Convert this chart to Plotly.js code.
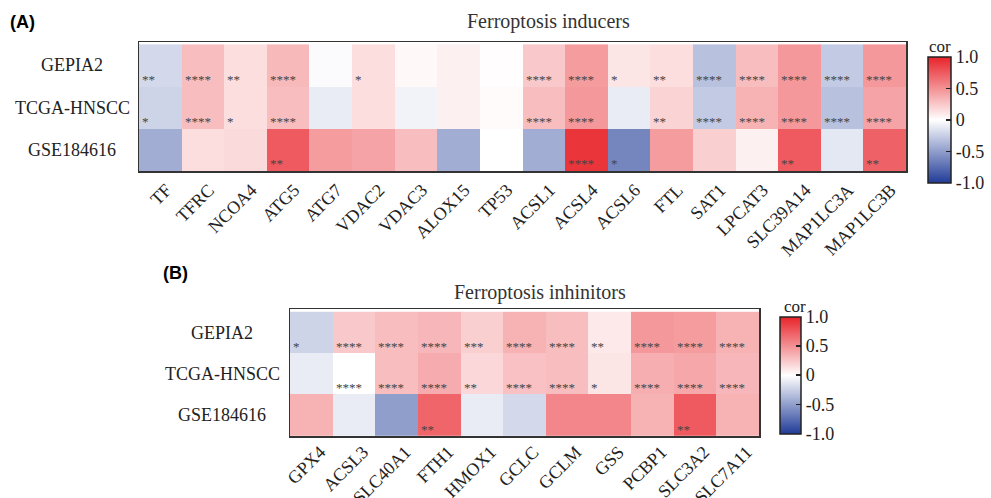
<!DOCTYPE html>
<html>
<head>
<meta charset="utf-8">
<script src="https://cdn.plot.ly/plotly-3.0.1.min.js"></script>
<style>html,body{margin:0;padding:0;background:#fff;}#chart{width:991px;height:498px;}</style>
</head>
<body>
<div id="chart"></div>
<script>
// ---------- data ----------
const rows = ['GEPIA2', 'TCGA-HNSCC', 'GSE184616'];

const genesA = ['TF','TFRC','NCOA4','ATG5','ATG7','VDAC2','VDAC3','ALOX15','TP53','ACSL1','ACSL4','ACSL6','FTL','SAT1','LPCAT3','SLC39A14','MAP1LC3A','MAP1LC3B'];
const corA_GEPIA2 = [-0.20, 0.30, 0.15, 0.32, -0.02, 0.15, 0.03, 0.07, 0.01, 0.25, 0.45, 0.12, 0.15, -0.32, 0.30, 0.47, -0.27, 0.47];
const corA_TCGA   = [-0.22, 0.30, 0.15, 0.30, -0.10, 0.15, -0.06, 0.07, 0.02, 0.30, 0.47, -0.10, 0.20, -0.27, 0.35, 0.47, -0.32, 0.42];
const corA_GSE    = [-0.42, 0.15, 0.17, 0.75, 0.45, 0.42, 0.30, -0.42, 0.00, -0.42, 0.92, -0.62, 0.45, 0.22, 0.07, 0.75, -0.12, 0.72];
const sigA_GEPIA2 = ['**','****','**','****','','*','','','','****','****','*','**','****','****','****','****','****'];
const sigA_TCGA   = ['*','****','*','****','','','','','','****','****','','**','****','****','****','****','****'];
const sigA_GSE    = ['','','','**','','','','','','','****','*','','','','**','','**'];

const genesB = ['GPX4','ACSL3','SLC40A1','FTH1','HMOX1','GCLC','GCLM','GSS','PCBP1','SLC3A2','SLC7A11'];
const corB_GEPIA2 = [-0.22, 0.25, 0.30, 0.33, 0.22, 0.35, 0.30, 0.10, 0.47, 0.45, 0.35];
const corB_TCGA   = [-0.10, 0.00, 0.30, 0.38, 0.18, 0.28, 0.30, 0.12, 0.37, 0.40, 0.33];
const corB_GSE    = [0.35, -0.10, -0.50, 0.70, -0.10, -0.20, 0.55, 0.55, 0.35, 0.75, 0.35];
const sigB_GEPIA2 = ['*','****','****','****','***','****','****','**','****','****','****'];
const sigB_TCGA   = ['','****','****','****','**','****','****','*','****','****','****'];
const sigB_GSE    = ['','','','**','','','','','','**',''];

const cbTicks = [-1, -0.5, 0, 0.5, 1];
const cbTickText = ['-1.0', '-0.5', '0', '0.5', '1.0'];

// ---------- styling ----------
const W = 991, H = 498;
const serif = 'Liberation Serif, Times New Roman, serif';
const cscale = [[0, '#213c98'], [0.5, '#ffffff'], [1, '#e8232a']];
const px = v => v / W, py = v => 1 - v / H;

function heat(x, z, xa, ya, cb) {
  return {
    type: 'heatmap', x: x, y: rows, z: z, xaxis: xa, yaxis: ya,
    zmin: -1, zmax: 1, colorscale: cscale, hoverinfo: 'skip',
    colorbar: Object.assign({
      tickvals: cbTicks, ticktext: cbTickText, ticks: 'inside', ticklen: 5, tickwidth: 1.5, tickcolor: '#222',
      outlinewidth: 1.5, outlinecolor: '#222', lenmode: 'pixels', thicknessmode: 'pixels',
      xpad: 0, ypad: 0,
      xanchor: 'left', yanchor: 'middle', tickfont: {family: serif, size: 18, color: '#222'}
    }, cb)
  };
}

const traces = [
  heat(genesA, [corA_GEPIA2, corA_TCGA, corA_GSE], 'x', 'y',
       {x: px(928), y: py(120), len: 126, thickness: 23}),
  heat(genesB, [corB_GEPIA2, corB_TCGA, corB_GSE], 'x2', 'y2',
       {x: px(780), y: py(375), len: 117, thickness: 21})
];

const annotations = [];
function stars(sigRows, xref, yref) {
  sigRows.forEach((arr, i) => {
    arr.forEach((s, j) => {
      if (!s) return;
      annotations.push({x: j - 0.5, y: i, xref: xref, yref: yref, text: s, showarrow: false,
        xanchor: 'left', yanchor: 'middle', xshift: 1, yshift: -14,
        font: {family: serif, size: 13, color: '#444'}});
    });
  });
}
stars([sigA_GEPIA2, sigA_TCGA, sigA_GSE], 'x', 'y');
stars([sigB_GEPIA2, sigB_TCGA, sigB_GSE], 'x2', 'y2');

rows.forEach((r, i) => {
  annotations.push({x: px(72), xref: 'paper', y: i, yref: 'y', text: r, showarrow: false,
    xanchor: 'center', font: {family: serif, size: 18, color: '#222'}});
  annotations.push({x: px(222), xref: 'paper', y: i, yref: 'y2', text: r, showarrow: false,
    xanchor: 'center', font: {family: serif, size: 18, color: '#222'}});
});

function txt(x, y, t, font, anchor) {
  annotations.push({x: px(x), y: py(y), xref: 'paper', yref: 'paper', text: t, showarrow: false,
    xanchor: anchor || 'center', yanchor: 'middle', font: font});
}
txt(548, 22, 'Ferroptosis inducers', {family: serif, size: 20, color: '#333'});
txt(540, 292, 'Ferroptosis inhinitors', {family: serif, size: 20, color: '#333'});
txt(940, 46, 'cor', {family: serif, size: 17, color: '#222'});
txt(795, 306, 'cor', {family: serif, size: 17, color: '#222'});
txt(8, 22, '<b>(A)</b>', {family: 'Liberation Sans, Arial, sans-serif', size: 18, color: '#000'}, 'left');
txt(161, 273, '<b>(B)</b>', {family: 'Liberation Sans, Arial, sans-serif', size: 18, color: '#000'}, 'left');

const xaxBase = {tickangle: -45, tickfont: {family: serif, size: 18, color: '#222'}, ticks: '',
  showline: true, mirror: true, linecolor: '#333', linewidth: 1.5, showgrid: false, zeroline: false, fixedrange: true};
const yaxBase = {autorange: 'reversed', showticklabels: false, ticks: '', showline: true, mirror: true,
  linecolor: '#333', linewidth: 1.5, showgrid: false, zeroline: false, fixedrange: true};

const layout = {
  width: W, height: H, margin: {l: 0, r: 0, t: 0, b: 0},
  paper_bgcolor: '#fff', plot_bgcolor: '#fff', showlegend: false,
  xaxis: Object.assign({}, xaxBase, {domain: [px(139), px(906)], anchor: 'y', ticklabelshift: 6}),
  yaxis: Object.assign({}, yaxBase, {domain: [py(171), py(42)], anchor: 'x'}),
  xaxis2: Object.assign({}, xaxBase, {domain: [px(290), px(759)], anchor: 'y2', ticklabelshift: 9, ticklabelstandoff: -3}),
  yaxis2: Object.assign({}, yaxBase, {domain: [py(436), py(309)], anchor: 'x2'}),
  annotations: annotations
};

Plotly.newPlot('chart', traces, layout, {displayModeBar: false, staticPlot: true});
</script>
</body>
</html>
